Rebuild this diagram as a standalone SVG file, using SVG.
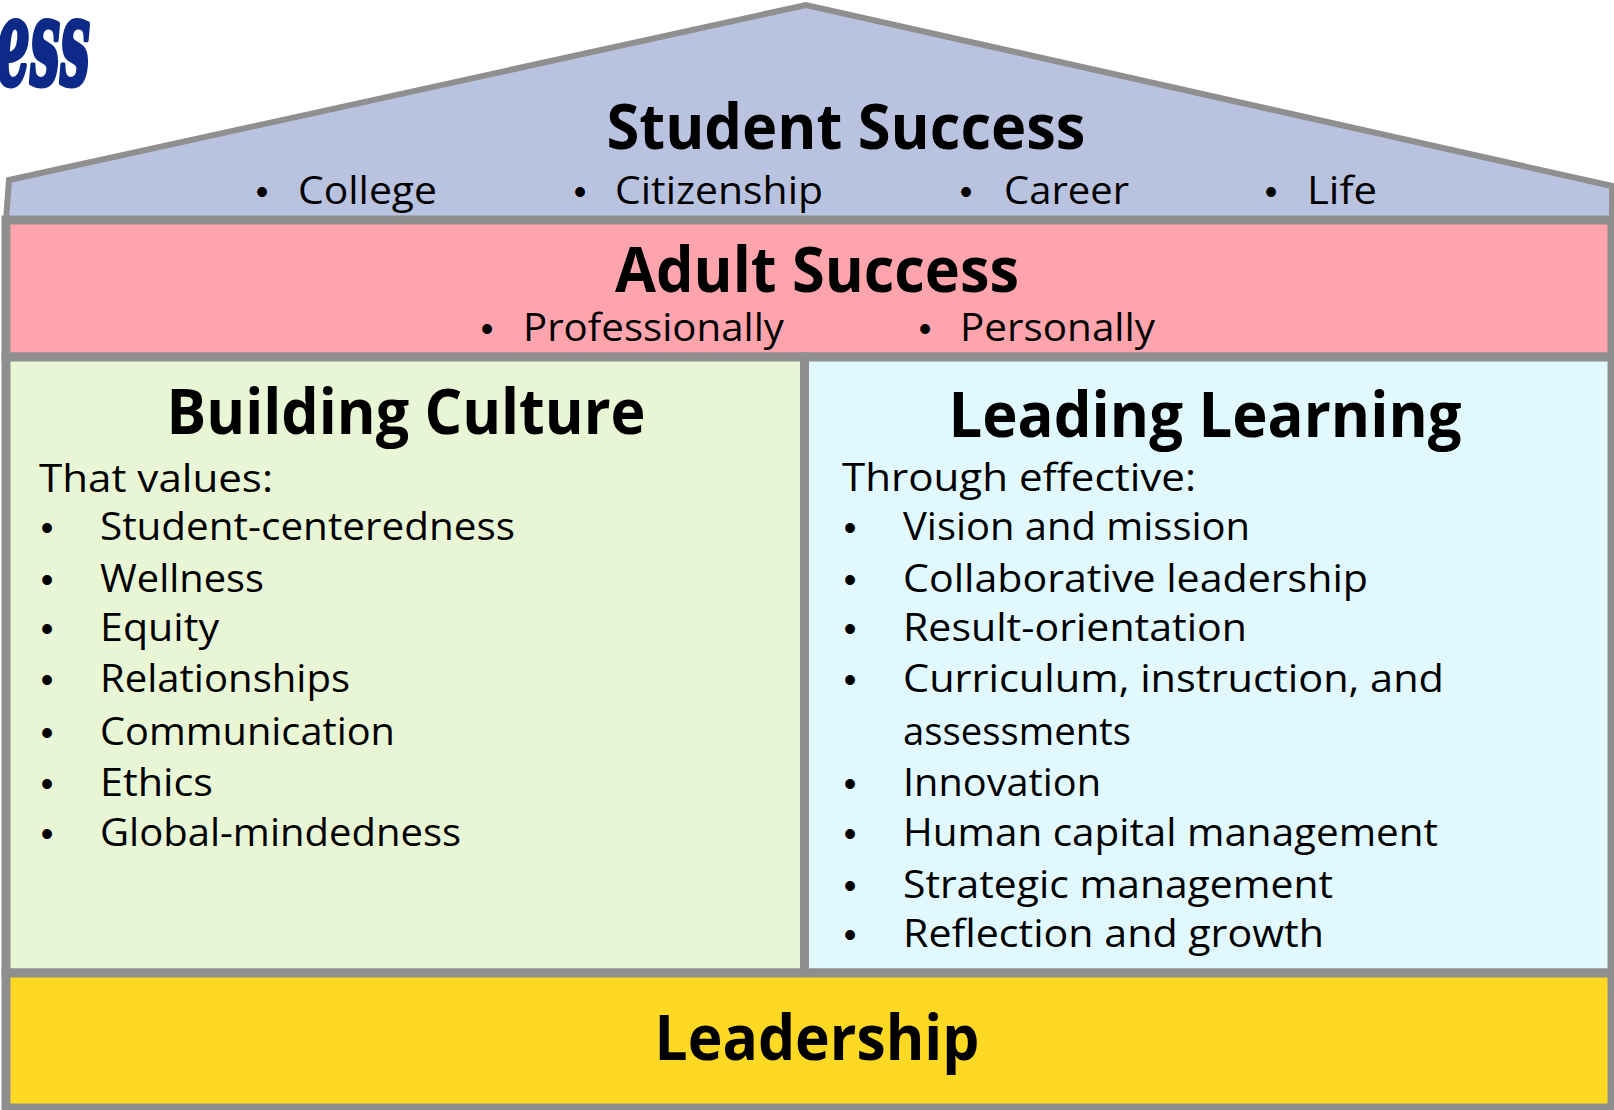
<svg xmlns="http://www.w3.org/2000/svg" width="1614" height="1110" viewBox="0 0 1614 1110">
<style>
  .edge { stroke: #8f8f8f; stroke-width: 9; stroke-linejoin: miter; }
  .roofedge { stroke: #8f8f8f; stroke-width: 6; stroke-linejoin: miter; }
  .h { font-family: "Open Sans", "Liberation Sans", sans-serif; font-weight: bold; font-size: 63px; fill: #000; }
  .t { font-family: "Open Sans", "Liberation Sans", sans-serif; font-size: 38px; fill: #000; }
  .r { font-family: "Open Sans", "Liberation Sans", sans-serif; font-size: 38px; fill: #000; }
  .b { font-family: "Liberation Sans", sans-serif; font-size: 36px; fill: #000; text-anchor: middle; }
</style>
<rect width="1614" height="1110" fill="#ffffff"/>
<g id="logo">
  <text x="-4" y="84" font-family="DejaVu Serif, serif" font-weight="bold" font-style="italic" font-size="120" fill="#0d2a88" stroke="#0d2a88" stroke-width="5" stroke-linejoin="round" textLength="94" lengthAdjust="spacingAndGlyphs">ess</text>
</g>
<g id="student-success">
  <polygon class="roofedge" points="9,180 806,5 1612,186 1612,220 6,220" fill="#b9c3e0"/>
  <text class="h" x="846" y="149" text-anchor="middle" textLength="479" lengthAdjust="spacingAndGlyphs">Student Success</text>
  <text class="b" x="262" y="204">•</text>
  <text class="r" x="298" y="204" textLength="139" lengthAdjust="spacingAndGlyphs">College</text>
  <text class="b" x="580" y="204">•</text>
  <text class="r" x="615" y="204" textLength="208" lengthAdjust="spacingAndGlyphs">Citizenship</text>
  <text class="b" x="966" y="204">•</text>
  <text class="r" x="1004" y="204" textLength="125" lengthAdjust="spacingAndGlyphs">Career</text>
  <text class="b" x="1271" y="204">•</text>
  <text class="r" x="1307" y="204" textLength="70" lengthAdjust="spacingAndGlyphs">Life</text>
</g>
<g id="adult-success">
  <rect class="edge" x="6" y="220" width="1606" height="137" fill="#fea4ad"/>
  <text class="h" x="817" y="292" text-anchor="middle" textLength="404" lengthAdjust="spacingAndGlyphs">Adult Success</text>
  <text class="b" x="487" y="341">•</text>
  <text class="r" x="523" y="341" textLength="261" lengthAdjust="spacingAndGlyphs">Professionally</text>
  <text class="b" x="925" y="341">•</text>
  <text class="r" x="960" y="341" textLength="195" lengthAdjust="spacingAndGlyphs">Personally</text>
</g>
<g id="building-culture">
  <rect class="edge" x="6" y="357" width="798.5" height="616" fill="#e8f6d6"/>
  <text class="h" x="406" y="434" text-anchor="middle" textLength="479" lengthAdjust="spacingAndGlyphs">Building Culture</text>
  <text class="t" x="39" y="492" textLength="234" lengthAdjust="spacingAndGlyphs">That values:</text>
  <text class="b" x="47" y="540">•</text>
  <text class="t" x="100" y="540" textLength="415" lengthAdjust="spacingAndGlyphs">Student-centeredness</text>
  <text class="b" x="47" y="592">•</text>
  <text class="t" x="100" y="592" textLength="164" lengthAdjust="spacingAndGlyphs">Wellness</text>
  <text class="b" x="47" y="641">•</text>
  <text class="t" x="100" y="641" textLength="119" lengthAdjust="spacingAndGlyphs">Equity</text>
  <text class="b" x="47" y="692">•</text>
  <text class="t" x="100" y="692" textLength="250" lengthAdjust="spacingAndGlyphs">Relationships</text>
  <text class="b" x="47" y="745">•</text>
  <text class="t" x="100" y="745" textLength="295" lengthAdjust="spacingAndGlyphs">Communication</text>
  <text class="b" x="47" y="796">•</text>
  <text class="t" x="100" y="796" textLength="113" lengthAdjust="spacingAndGlyphs">Ethics</text>
  <text class="b" x="47" y="846">•</text>
  <text class="t" x="100" y="846" textLength="361" lengthAdjust="spacingAndGlyphs">Global-mindedness</text>
</g>
<g id="leading-learning">
  <rect class="edge" x="804.5" y="357" width="807.5" height="616" fill="#e1f9fe"/>
  <text class="h" x="1205" y="437" text-anchor="middle" textLength="513" lengthAdjust="spacingAndGlyphs">Leading Learning</text>
  <text class="t" x="842" y="491" textLength="354" lengthAdjust="spacingAndGlyphs">Through effective:</text>
  <text class="b" x="850" y="540">•</text>
  <text class="t" x="903" y="540" textLength="347" lengthAdjust="spacingAndGlyphs">Vision and mission</text>
  <text class="b" x="850" y="592">•</text>
  <text class="t" x="903" y="592" textLength="465" lengthAdjust="spacingAndGlyphs">Collaborative leadership</text>
  <text class="b" x="850" y="641">•</text>
  <text class="t" x="903" y="641" textLength="344" lengthAdjust="spacingAndGlyphs">Result-orientation</text>
  <text class="b" x="850" y="692">•</text>
  <text class="t" x="903" y="692" textLength="541" lengthAdjust="spacingAndGlyphs">Curriculum, instruction, and</text>
  <text class="t" x="903" y="745" textLength="228" lengthAdjust="spacingAndGlyphs">assessments</text>
  <text class="b" x="850" y="796">•</text>
  <text class="t" x="903" y="796" textLength="198" lengthAdjust="spacingAndGlyphs">Innovation</text>
  <text class="b" x="850" y="846">•</text>
  <text class="t" x="903" y="846" textLength="535" lengthAdjust="spacingAndGlyphs">Human capital management</text>
  <text class="b" x="850" y="898">•</text>
  <text class="t" x="903" y="898" textLength="430" lengthAdjust="spacingAndGlyphs">Strategic management</text>
  <text class="b" x="850" y="947">•</text>
  <text class="t" x="903" y="947" textLength="421" lengthAdjust="spacingAndGlyphs">Reflection and growth</text>
</g>
<g id="leadership">
  <rect class="edge" x="6" y="973" width="1606" height="135" fill="#fed924"/>
  <text class="h" x="817" y="1060" text-anchor="middle" textLength="325" lengthAdjust="spacingAndGlyphs">Leadership</text>
</g>
<g id="connectors"></g>
</svg>
